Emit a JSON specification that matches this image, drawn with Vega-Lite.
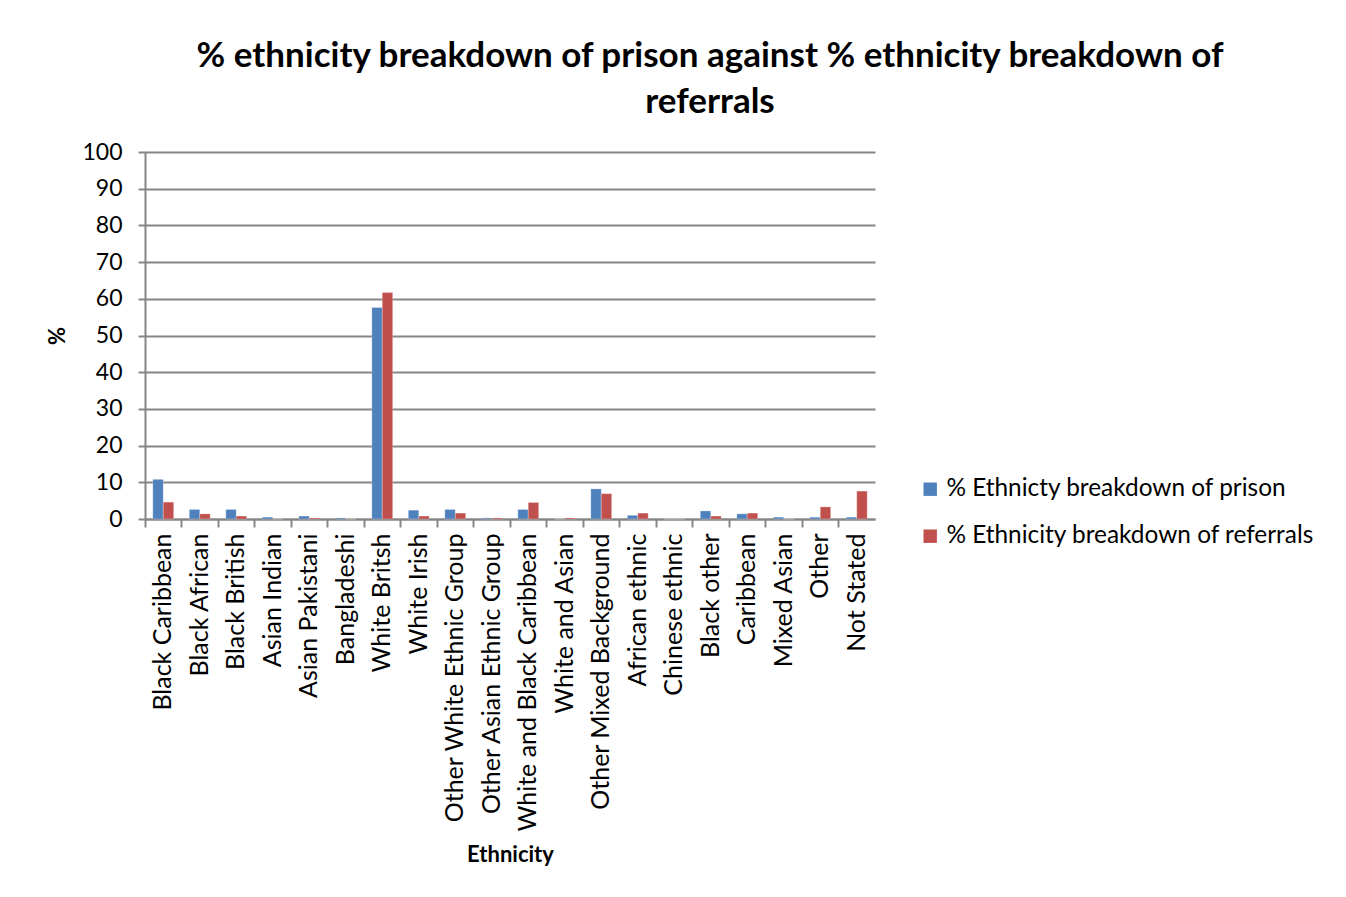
{
  "$schema": "https://vega.github.io/schema/vega-lite/v6.json",
  "width": 730,
  "height": 367,
  "autosize": {"type": "none"},
  "padding": {"left": 145, "top": 152, "right": 471, "bottom": 378},
  "background": "white",
  "title": {
    "text": ["% ethnicity breakdown of prison against % ethnicity breakdown of", "referrals"],
    "font": "Lato",
    "fontSize": 35,
    "fontWeight": "bold",
    "color": "#000000",
    "anchor": "middle",
    "dx": 200,
    "offset": 21,
    "lineHeight": 46
  },
  "config": {
    "view": {"stroke": null},
    "font": "Lato",
    "axis": {"labelFont": "Lato", "titleFont": "Lato", "labelColor": "#000", "titleColor": "#000"}
  },
  "data": {
    "values": [
      {"ethnicity": "Black Caribbean", "series": "% Ethnicty breakdown of prison", "value": 10.8},
      {"ethnicity": "Black Caribbean", "series": "% Ethnicity breakdown of referrals", "value": 4.6},
      {"ethnicity": "Black African", "series": "% Ethnicty breakdown of prison", "value": 2.6},
      {"ethnicity": "Black African", "series": "% Ethnicity breakdown of referrals", "value": 1.4},
      {"ethnicity": "Black British", "series": "% Ethnicty breakdown of prison", "value": 2.6},
      {"ethnicity": "Black British", "series": "% Ethnicity breakdown of referrals", "value": 0.8},
      {"ethnicity": "Asian Indian", "series": "% Ethnicty breakdown of prison", "value": 0.5},
      {"ethnicity": "Asian Indian", "series": "% Ethnicity breakdown of referrals", "value": 0},
      {"ethnicity": "Asian Pakistani", "series": "% Ethnicty breakdown of prison", "value": 0.8},
      {"ethnicity": "Asian Pakistani", "series": "% Ethnicity breakdown of referrals", "value": 0.3},
      {"ethnicity": "Bangladeshi", "series": "% Ethnicty breakdown of prison", "value": 0.3},
      {"ethnicity": "Bangladeshi", "series": "% Ethnicity breakdown of referrals", "value": 0},
      {"ethnicity": "White Britsh", "series": "% Ethnicty breakdown of prison", "value": 57.6},
      {"ethnicity": "White Britsh", "series": "% Ethnicity breakdown of referrals", "value": 61.7},
      {"ethnicity": "White Irish", "series": "% Ethnicty breakdown of prison", "value": 2.4},
      {"ethnicity": "White Irish", "series": "% Ethnicity breakdown of referrals", "value": 0.8},
      {"ethnicity": "Other White Ethnic Group", "series": "% Ethnicty breakdown of prison", "value": 2.6},
      {"ethnicity": "Other White Ethnic Group", "series": "% Ethnicity breakdown of referrals", "value": 1.6},
      {"ethnicity": "Other Asian Ethnic Group", "series": "% Ethnicty breakdown of prison", "value": 0.3},
      {"ethnicity": "Other Asian Ethnic Group", "series": "% Ethnicity breakdown of referrals", "value": 0.3},
      {"ethnicity": "White and Black Caribbean", "series": "% Ethnicty breakdown of prison", "value": 2.6},
      {"ethnicity": "White and Black Caribbean", "series": "% Ethnicity breakdown of referrals", "value": 4.5},
      {"ethnicity": "White and Asian", "series": "% Ethnicty breakdown of prison", "value": 0},
      {"ethnicity": "White and Asian", "series": "% Ethnicity breakdown of referrals", "value": 0.3},
      {"ethnicity": "Other Mixed Background", "series": "% Ethnicty breakdown of prison", "value": 8.2},
      {"ethnicity": "Other Mixed Background", "series": "% Ethnicity breakdown of referrals", "value": 6.9},
      {"ethnicity": "African ethnic", "series": "% Ethnicty breakdown of prison", "value": 1.0},
      {"ethnicity": "African ethnic", "series": "% Ethnicity breakdown of referrals", "value": 1.6},
      {"ethnicity": "Chinese ethnic", "series": "% Ethnicty breakdown of prison", "value": 0},
      {"ethnicity": "Chinese ethnic", "series": "% Ethnicity breakdown of referrals", "value": 0},
      {"ethnicity": "Black other", "series": "% Ethnicty breakdown of prison", "value": 2.2},
      {"ethnicity": "Black other", "series": "% Ethnicity breakdown of referrals", "value": 0.8},
      {"ethnicity": "Caribbean", "series": "% Ethnicty breakdown of prison", "value": 1.4},
      {"ethnicity": "Caribbean", "series": "% Ethnicity breakdown of referrals", "value": 1.6},
      {"ethnicity": "Mixed Asian", "series": "% Ethnicty breakdown of prison", "value": 0.5},
      {"ethnicity": "Mixed Asian", "series": "% Ethnicity breakdown of referrals", "value": 0},
      {"ethnicity": "Other", "series": "% Ethnicty breakdown of prison", "value": 0.5},
      {"ethnicity": "Other", "series": "% Ethnicity breakdown of referrals", "value": 3.3},
      {"ethnicity": "Not Stated", "series": "% Ethnicty breakdown of prison", "value": 0.5},
      {"ethnicity": "Not Stated", "series": "% Ethnicity breakdown of referrals", "value": 7.6}
    ]
  },
  "mark": {"type": "bar", "stroke": "white", "strokeOpacity": 0.5, "strokeWidth": 0.5},
  "encoding": {
    "x": {
      "field": "ethnicity",
      "type": "nominal",
      "sort": null,
      "scale": {"paddingInner": 0, "paddingOuter": 0},
      "axis": {
        "title": "Ethnicity",
        "titleFontSize": 22,
        "titleFontWeight": "bold",
        "titlePadding": 125,
        "labelAngle": -90,
        "labelFontSize": 25,
        "labelPadding": 6,
        "labelLimit": 400,
        "bandPosition": 0,
        "tickSize": 8,
        "tickColor": "#868686",
        "tickWidth": 2,
        "domainColor": "#868686",
        "domainWidth": 2,
        "grid": false
      }
    },
    "xOffset": {
      "field": "series",
      "type": "nominal",
      "sort": null,
      "scale": {"paddingInner": 0, "paddingOuter": 0.75}
    },
    "y": {
      "field": "value",
      "type": "quantitative",
      "scale": {"domain": [0, 100]},
      "axis": {
        "title": "%",
        "titleFontSize": 22,
        "titleFontWeight": "bold",
        "titlePadding": 12,
        "values": [0, 10, 20, 30, 40, 50, 60, 70, 80, 90, 100],
        "labelFontSize": 23,
        "labelPadding": 16,
        "tickSize": 7,
        "tickColor": "#868686",
        "tickWidth": 2,
        "domainColor": "#868686",
        "domainWidth": 2,
        "gridColor": "#868686",
        "gridWidth": 2
      }
    },
    "color": {
      "field": "series",
      "type": "nominal",
      "scale": {
        "domain": ["% Ethnicty breakdown of prison", "% Ethnicity breakdown of referrals"],
        "range": ["#4F81BD", "#C0504D"]
      },
      "legend": {
        "title": null,
        "orient": "none",
        "legendX": 773,
        "legendY": 325,
        "symbolType": "square",
        "symbolSize": 180,
        "symbolStrokeWidth": 0,
        "labelFontSize": 24.4,
        "labelFont": "Lato",
        "labelColor": "#000",
        "rowPadding": 22,
        "labelOffset": 4,
        "labelLimit": 500
      }
    }
  }
}
